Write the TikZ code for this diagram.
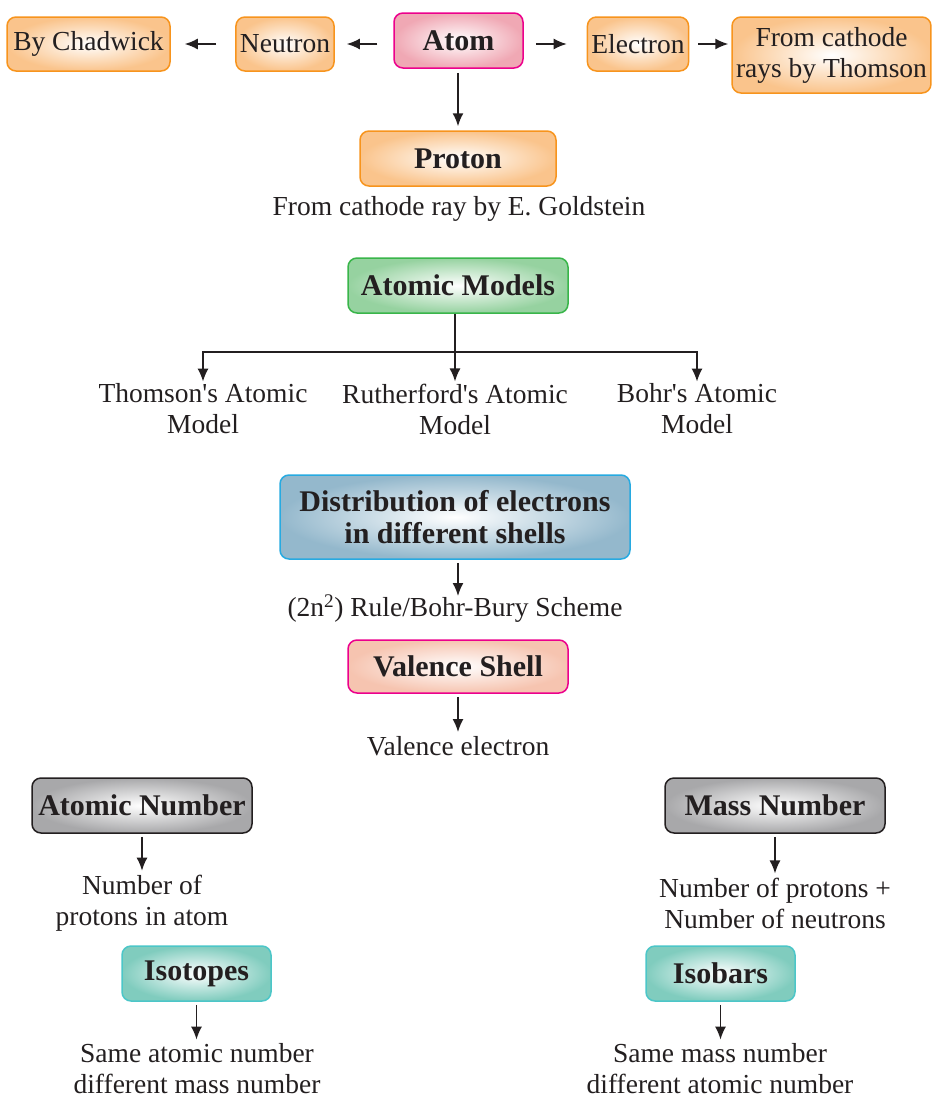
\documentclass[tikz,border=0pt]{standalone}
\usepackage{fontspec}
\setmainfont{Liberation Serif}
\usetikzlibrary{arrows.meta}

\definecolor{ink}{HTML}{231F20}
\definecolor{orline}{HTML}{F7941D}
\definecolor{orfill}{RGB}{250,196,140}
\definecolor{pkline}{HTML}{EC008C}
\definecolor{pkfill}{RGB}{240,168,180}
\definecolor{peachfill}{RGB}{246,196,176}
\definecolor{grline}{HTML}{39B54A}
\definecolor{grfill}{RGB}{150,210,160}
\definecolor{blline}{HTML}{27AAE1}
\definecolor{blfill}{RGB}{148,184,204}
\definecolor{gyfill}{RGB}{168,168,170}
\definecolor{tlline}{HTML}{4CC6C8}
\definecolor{tlfill}{RGB}{128,204,190}

\newcommand{\reg}{\fontsize{27.5}{31}\selectfont}
\newcommand{\bld}{\fontsize{30}{32}\selectfont\bfseries}

\tikzset{
  box/.style={draw, rounded corners=9pt, line width=1.5pt, shading=radial,
    inner color=white, align=center, inner sep=4pt, text=ink},
  orbox/.style={box, draw=orline, outer color=orfill, font=\reg},
  pkbox/.style={box, draw=pkline, outer color=pkfill, font=\bld},
  grbox/.style={box, draw=grline, outer color=grfill, font=\bld},
  blbox/.style={box, draw=blline, outer color=blfill, font=\bld},
  vsbox/.style={box, draw=pkline, outer color=peachfill, font=\bld},
  gybox/.style={box, draw=ink, outer color=gyfill, font=\bld},
  tlbox/.style={box, draw=tlline, outer color=tlfill, font=\bld},
  txt/.style={align=center, inner sep=2pt, text=ink, font=\reg},
  arr/.style={-{Latex[length=13pt,width=11pt]}, line width=1.6pt, draw=ink},
  stem/.style={line width=1.6pt, draw=ink}
}

\begin{document}
\begin{tikzpicture}[x=1pt,y=-1pt]
  \useasboundingbox (0,0) rectangle (932,1098);

  % top row
  \node[orbox, minimum width=163pt, minimum height=54pt] (chadwick) at (88.5,44) {By Chadwick};
  \node[orbox, minimum width=98pt, minimum height=54pt] (neutron) at (285,44) {Neutron};
  \node[pkbox, minimum width=129pt, minimum height=55pt] (atom) at (458.5,40.5) {Atom};
  \node[orbox, minimum width=100pt, minimum height=54pt] (electron) at (638,44) {Electron};
  \node[orbox, minimum width=197pt, minimum height=76pt] (thomson) at (831.5,55) {From cathode\\rays by Thomson};

  \draw[arr, shorten <=16pt, shorten >=12pt] (atom.west |- neutron) -- (neutron.east);
  \draw[arr, shorten <=19pt, shorten >=14pt] (neutron.west) -- (chadwick.east);
  \draw[arr, shorten <=12pt, shorten >=20pt] (atom.east |- electron) -- (electron.west);
  \draw[arr, shorten <=9pt, shorten >=3pt] (electron.east) -- (electron.east -| thomson.west);

  \node[orbox, font=\bld, minimum width=196pt, minimum height=55pt] (proton) at (458,158.5) {Proton};
  \draw[arr, shorten <=4pt, shorten >=4pt] (atom.south -| proton) -- (proton.north);
  \node[txt] (goldstein) at (459,209) {From cathode ray by E. Goldstein};

  % atomic models
  \node[grbox, minimum width=220pt, minimum height=55pt] (models) at (458,285.5) {Atomic Models};
  \node[txt] (thomsonm) at (203,409) {Thomson\textquotesingle s Atomic\\Model};
  \node[txt] (rutherfordm) at (455,409) {Rutherford\textquotesingle s Atomic\\Model};
  \node[txt] (bohrm) at (697,409) {Bohr\textquotesingle s Atomic\\Model};
  \coordinate (fork) at (455,352);
  \draw[stem] (models.south -| fork) -- (fork);
  \draw[arr] (fork) -- (rutherfordm.north);
  \draw[arr] (fork) -| (thomsonm.north);
  \draw[arr] (fork) -| (bohrm.north);

  % shells
  \node[blbox, minimum width=350pt, minimum height=84pt] (shells) at (455,517) {Distribution of electrons\\in different shells};
  \node[txt] (bohrbury) at (455,609) {(2n\textsuperscript{2}) Rule/Bohr-Bury Scheme};
  \draw[arr, shorten <=3pt] (shells.south -| 458,0) -- (458,596);
  \node[vsbox, minimum width=220pt, minimum height=53pt] (valence) at (458,666.5) {Valence Shell};
  \node[txt] (valelec) at (458,746) {Valence electron};
  \draw[arr, shorten <=3pt, shorten >=2pt] (valence.south) -- (valelec.north);

  % atomic number
  \node[gybox, minimum width=220pt, minimum height=55pt] (atomicno) at (142,805.5) {Atomic Number};
  \node[txt] (protons) at (142,903) {Number of\\protons in atom};
  \draw[arr, shorten <=3pt, shorten >=2pt] (atomicno.south) -- (protons.north);
  \node[tlbox, minimum width=149pt, minimum height=55pt] (isotopes) at (196.5,973.5) {Isotopes};
  \node[txt] (sameatomic) at (197,1069) {Same atomic number\\different mass number};
  \draw[arr, shorten <=3pt, shorten >=2pt] (isotopes.south) -- (isotopes.south |- sameatomic.north);

  % mass number
  \node[gybox, minimum width=220pt, minimum height=55pt] (massno) at (775,805.5) {Mass Number};
  \node[txt] (nucleons) at (775,903) {Number of protons +\\Number of neutrons};
  \draw[arr, shorten <=3pt, shorten >=2pt] (massno.south) -- (nucleons.north);
  \node[tlbox, minimum width=149pt, minimum height=55pt] (isobars) at (720.5,973.5) {Isobars};
  \node[txt] (samemass) at (720,1069) {Same mass number\\different atomic number};
  \draw[arr, shorten <=3pt, shorten >=2pt] (isobars.south) -- (isobars.south |- samemass.north);
\end{tikzpicture}
\end{document}
